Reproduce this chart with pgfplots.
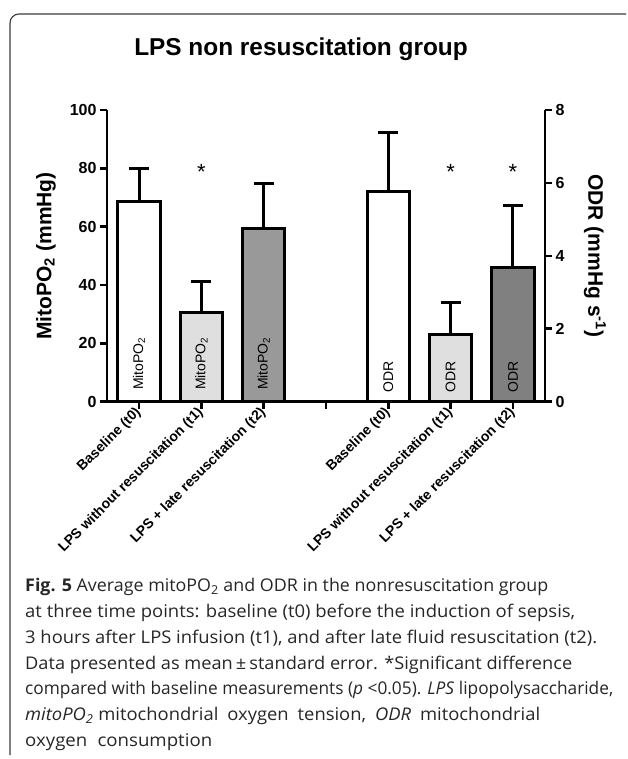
\documentclass[border=0pt]{standalone}
\usepackage{pgfplots}
\pgfplotsset{compat=1.18}
\usepackage{graphicx}
\usepackage{fontspec}
\setmainfont{Liberation Sans}
\newfontfamily\capfont{Open Sans}
\definecolor{lgray}{HTML}{DFDFDF}
\definecolor{mgray}{HTML}{999999}
\definecolor{dgray}{HTML}{808080}
\definecolor{framec}{HTML}{3A3A3A}
\newcommand\cl[2]{\resizebox{#1}{\height}{#2}}
\begin{document}
\begin{tikzpicture}[x=1pt,y=1pt]
\path[use as bounding box] (0,0) rectangle (627,-759);
\draw[framec, line width=1.1pt, rounded corners=9pt] (10,-755) -- (10,-14) -- (626,-14);
\node[font=\bfseries\fontsize{24.4}{29}\selectfont] at (301,-49) {LPS non resuscitation group};

\pgfplotsset{common/.style={
  at={(107pt,-401.7pt)}, anchor=south west,
  scale only axis, width=438pt, height=291.7pt,
  xmin=-0.514, xmax=6.514, ymin=0,
  ybar, bar width=0.68, bar shift=0pt,
  axis line style={line width=2.8pt, -},
  x axis line style={-}, y axis line style={-},
  tick style={line width=2.6pt, black},
  major tick length=7pt,
  tick align=outside,
  clip=false,
  /pgf/number format/assume math mode=true,
  ticklabel style={font=\bfseries\fontsize{16}{19}\selectfont},
  bars/.style={draw=black, line width=3pt,
    error bars/y dir=plus, error bars/y explicit,
    error bars/error bar style={line width=3pt, black},
    error bars/error mark options={rotate=90, mark size=10pt, line width=3pt, black}},
  star/.style={draw=none, fill=none, nodes near coords={*}, nodes near coords align=center,
    every node near coord/.append style={font=\fontsize{22}{26}\selectfont, anchor=center, yshift=-4pt}},
}}

\begin{axis}[common, ymax=100,
  axis x line*=bottom, axis y line*=left,
  ytick={0,20,...,100}, xtick={0,...,6},
  xticklabels={Baseline (t0), LPS without resuscitation (t1), LPS + late resuscitation (t2), {}, Baseline (t0), LPS without resuscitation (t1), LPS + late resuscitation (t2)},
  xticklabel style={rotate=45, anchor=east, xshift=2pt, yshift=-1pt, font=\bfseries\fontsize{14}{17}\selectfont},
  ylabel={MitoPO\textsubscript{2} (mmHg)},
  every axis y label/.style={at={(axis description cs:-0.139,0.5)}, rotate=90, anchor=center, font=\bfseries\fontsize{21}{25}\selectfont},
]
\addplot[bars, fill=white] coordinates {(0,68.6) +- (0,11.2)};
\addplot[bars, fill=lgray] coordinates {(1,30.6) +- (0,10.5)};
\addplot[bars, fill=mgray] coordinates {(2,59.4) +- (0,15.5)};
\addplot[star] coordinates {(1,80)};
\node[rotate=90, anchor=west, inner sep=0pt, font=\fontsize{14}{17}\selectfont] at (axis cs:0,4) {MitoPO\textsubscript{2}};
\node[rotate=90, anchor=west, inner sep=0pt, font=\fontsize{14}{17}\selectfont] at (axis cs:1,4) {MitoPO\textsubscript{2}};
\node[rotate=90, anchor=west, inner sep=0pt, font=\fontsize{14}{17}\selectfont] at (axis cs:2,4) {MitoPO\textsubscript{2}};
\end{axis}

\begin{axis}[common, ymax=8,
  axis x line=none, axis y line*=right,
  ytick={0,2,...,8}, xtick=\empty,
  ylabel={ODR (mmHg s\textsuperscript{-1})},
  every axis y label/.style={at={(axis description cs:1.114,0.5)}, rotate=-90, anchor=center, font=\bfseries\fontsize{21}{25}\selectfont},
]
\addplot[bars, fill=white] coordinates {(4,5.76) +- (0,1.62)};
\addplot[bars, fill=lgray] coordinates {(5,1.85) +- (0,0.88)};
\addplot[bars, fill=dgray] coordinates {(6,3.68) +- (0,1.69)};
\addplot[star] coordinates {(5,6.4) (6,6.4)};
\node[rotate=90, anchor=west, inner sep=0pt, font=\fontsize{14}{17}\selectfont] at (axis cs:4,0.24) {ODR};
\node[rotate=90, anchor=west, inner sep=0pt, font=\fontsize{14}{17}\selectfont] at (axis cs:5,0.24) {ODR};
\node[rotate=90, anchor=west, inner sep=0pt, font=\fontsize{14}{17}\selectfont] at (axis cs:6,0.24) {ODR};
\end{axis}

\begin{scope}[every node/.style={anchor=base west, inner sep=0pt, font=\capfont\fontsize{17.5}{21}\selectfont, text=black!85}]
\node at (25,-591.7) {\cl{523pt}{{\bfseries Fig. 5} Average mitoPO\textsubscript{2} and ODR in the nonresuscitation group}};
\node at (25,-617.5) {\cl{550pt}{at three time points: baseline (t0) before the induction of sepsis,}};
\node at (25,-643.3) {\cl{572pt}{3 hours after LPS infusion (t1), and after late fluid resuscitation (t2).}};
\node at (25,-669.1) {\cl{547pt}{Data presented as mean\,±\,standard error. *Significant difference}};
\node at (25,-694.9) {\cl{588pt}{compared with baseline measurements (\textit{p} <0.05). \textit{LPS} lipopolysaccharide,}};
\node at (25,-720.7) {\cl{515pt}{\textit{mitoPO\textsubscript{2}} mitochondrial\hspace{4pt} oxygen\hspace{4pt} tension,\hspace{4pt} \textit{ODR}\hspace{4pt} mitochondrial}};
\node at (25,-746.5) {\cl{187pt}{oxygen\hspace{5pt} consumption}};
\end{scope}
\end{tikzpicture}
\end{document}
